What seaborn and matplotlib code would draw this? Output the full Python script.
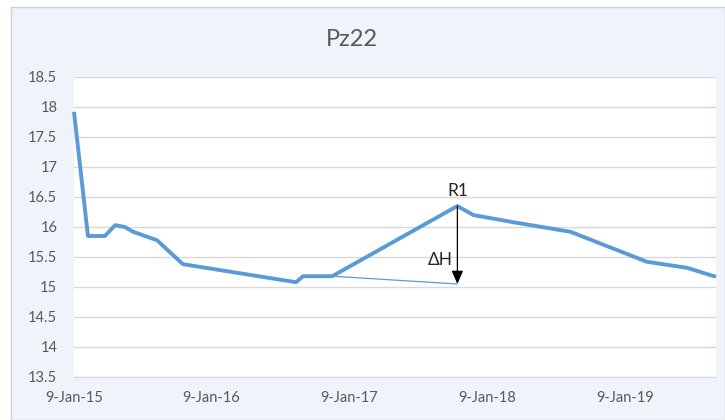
import matplotlib
matplotlib.use("Agg")
import matplotlib.pyplot as plt
import matplotlib.dates as mdates
from matplotlib.patches import Rectangle
import seaborn as sns
import pandas as pd

dates = ["2015-01-09", "2015-02-15", "2015-04-01", "2015-04-28", "2015-05-24",
         "2015-06-15", "2015-08-17", "2015-10-25", "2016-08-20", "2016-09-08",
         "2016-11-24", "2017-10-22", "2017-12-03", "2018-03-19", "2018-08-18",
         "2019-03-09", "2019-06-23", "2019-09-08"]
levels = [17.92, 15.85, 15.85, 16.03, 16.00,
          15.92, 15.78, 15.38, 15.08, 15.18,
          15.18, 16.35, 16.20, 16.08, 15.92,
          15.42, 15.32, 15.17]

trend_dates = ["2016-11-24", "2017-10-22"]
trend_levels = [15.18, 15.05]

r1_date = "2017-10-22"
r1_level = 16.35
r1_base = 15.05

title = "Pz22"
year_ticks = ["2015-01-09", "2016-01-09", "2017-01-09", "2018-01-09", "2019-01-09"]
y_ticks = [13.5, 14, 14.5, 15, 15.5, 16, 16.5, 17, 17.5, 18, 18.5]

sns.set_style("white")
plt.rcParams["font.family"] = ["Lato", "DejaVu Sans"]

df = pd.DataFrame({"date": pd.to_datetime(dates), "level": levels})
tr = pd.DataFrame({"date": pd.to_datetime(trend_dates), "level": trend_levels})

W, H = 725, 420
fig = plt.figure(figsize=(W / 100, H / 100), dpi=100)
fig.patch.set_facecolor("white")
# outer chart area
fig.patches.append(Rectangle((11 / W, 0), (W - 11) / W, (H - 7) / H,
                             transform=fig.transFigure, facecolor="#EFF4FB",
                             edgecolor="#D0D0D0", linewidth=1, zorder=-10))

left, right, top, bottom = 74, 716, 77, 377
ax = fig.add_axes([left / W, 1 - bottom / H, (right - left) / W, (bottom - top) / H])
ax.set_facecolor("white")

sns.lineplot(data=tr, x="date", y="level", ax=ax, color="#5B9BD5", linewidth=0.9, zorder=3)
sns.lineplot(data=df, x="date", y="level", ax=ax, color="#5B9BD5", linewidth=2.8, zorder=4,
             solid_joinstyle="round", solid_capstyle="butt", clip_on=False)

ax.set_xlim(pd.Timestamp("2015-01-09"), pd.Timestamp("2019-09-08"))
ax.set_ylim(13.5, 18.5)
ax.set_yticks(y_ticks)
ax.set_yticklabels([("%g" % v) for v in y_ticks])
ax.set_xticks(pd.to_datetime(year_ticks))
ax.xaxis.set_major_formatter(plt.FuncFormatter(
    lambda v, p: (lambda d: f"{d.day}-{d.strftime('%b-%y')}")(mdates.num2date(v))))
ax.grid(axis="y", color="#D9D9D9", linewidth=1)
ax.grid(axis="x", visible=False)
for s in ["left", "right", "top"]:
    ax.spines[s].set_visible(False)
ax.spines["bottom"].set_color("#D9D9D9")
ax.tick_params(axis="y", length=0, pad=12, labelsize=10.5, labelcolor="#595959")
ax.tick_params(axis="x", length=5, width=1, color="#D9D9D9", pad=5,
               labelsize=10.5, labelcolor="#595959", direction="out")
ax.set_xlabel("")
ax.set_ylabel("")

x_r1 = pd.Timestamp(r1_date)
ax.annotate("", xy=(x_r1, r1_base), xytext=(x_r1, r1_level),
            arrowprops=dict(arrowstyle="-|>,head_width=0.35,head_length=0.8",
                            color="black", linewidth=0.9, shrinkA=0, shrinkB=0),
            zorder=6)
ax.annotate("R1", xy=(x_r1, r1_level), xytext=(0, 5), textcoords="offset points",
            ha="center", va="bottom", fontsize=12.5, color="#262626", zorder=6)
ax.annotate("ΔH", xy=(x_r1, 15.5), xytext=(-12, -2), textcoords="offset points",
            ha="center", va="center", fontsize=12.5, color="#262626", zorder=6)

fig.text(352 / W, 1 - 40 / H, title, ha="center", va="center",
         fontsize=17, color="#595959")

fig.savefig("out.png", dpi=100, facecolor=fig.get_facecolor())
